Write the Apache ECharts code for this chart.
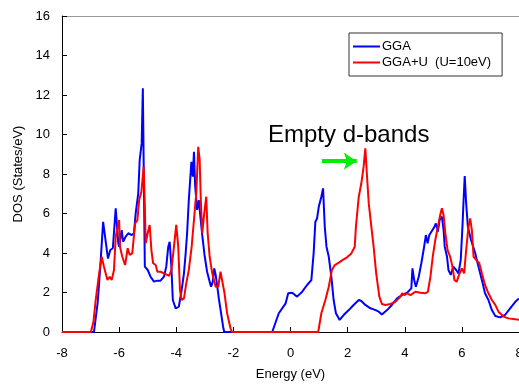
<!DOCTYPE html>
<html>
<head>
<meta charset="utf-8">
<script src="https://cdn.jsdelivr.net/npm/echarts@6/dist/echarts.min.js"></script>
<style>
  html, body { margin: 0; padding: 0; background: #fff; }
  #chart { width: 519px; height: 385px; }
</style>
</head>
<body>
<div id="chart"></div>
<script>
// GGA 态密度（蓝线）
const ggaEnergy = [-8, -6.88, -6.75, -6.66, -6.56, -6.39, -6.31, -6.22, -6.12, -6.03, -6.0, -5.91, -5.86, -5.77, -5.68, -5.56, -5.48, -5.42, -5.33, -5.28, -5.21, -5.17, -5.10, -5.0, -4.9, -4.78, -4.66, -4.55, -4.43, -4.35, -4.28, -4.23, -4.17, -4.12, -4.02, -3.91, -3.81, -3.73, -3.67, -3.62, -3.56, -3.47, -3.42, -3.38, -3.34, -3.27, -3.21, -3.15, -3.09, -3.01, -2.92, -2.83, -2.78, -2.72, -2.67, -2.62, -2.57, -2.51, -2.43, -2.36, -2.32, -0.64, -0.41, -0.17, -0.08, 0.06, 0.23, 0.41, 0.58, 0.73, 0.81, 0.87, 0.93, 0.99, 1.08, 1.14, 1.20, 1.26, 1.34, 1.43, 1.51, 1.59, 1.72, 1.86, 2.04, 2.21, 2.39, 2.48, 2.62, 2.80, 2.98, 3.09, 3.20, 3.38, 3.55, 3.73, 3.90, 4.08, 4.23, 4.27, 4.33, 4.39, 4.49, 4.58, 4.66, 4.74, 4.80, 4.86, 4.93, 5.01, 5.09, 5.16, 5.22, 5.30, 5.36, 5.40, 5.48, 5.53, 5.61, 5.70, 5.80, 5.88, 5.96, 6.02, 6.06, 6.10, 6.15, 6.21, 6.32, 6.47, 6.58, 6.70, 6.81, 6.93, 7.05, 7.17, 7.34, 7.51, 7.69, 7.87, 8.0]
const ggaDos = [0, 0, 1.5, 3.3, 5.58, 3.72, 4.15, 4.24, 6.26, 4.5, 4.32, 5.16, 4.57, 4.83, 5.0, 4.91, 5.0, 6.02, 7.02, 8.71, 9.55, 12.34, 3.31, 3.14, 2.8, 2.55, 2.6, 2.6, 2.8, 3.31, 4.32, 4.57, 3.3, 1.62, 1.2, 1.28, 2.13, 2.97, 4.0, 5.0, 6.68, 8.62, 7.86, 9.13, 7.44, 6.18, 6.68, 5.76, 4.91, 3.9, 3.05, 2.55, 2.29, 2.55, 3.22, 2.89, 2.38, 1.7, 0.95, 0.27, 0, 0, 0.95, 1.45, 1.96, 1.99, 1.79, 2.04, 2.38, 2.63, 3.98, 5.58, 5.75, 6.34, 6.85, 7.27, 5.33, 4.32, 3.81, 2.8, 1.62, 0.95, 0.61, 0.86, 1.11, 1.37, 1.62, 1.57, 1.37, 1.2, 1.11, 1.03, 0.89, 1.11, 1.37, 1.70, 1.87, 1.99, 2.21, 3.22, 2.63, 2.29, 2.8, 3.48, 4.15, 4.91, 4.49, 4.91, 5.0, 5.25, 5.50, 5.08, 5.67, 5.84, 5.16, 4.32, 3.81, 3.14, 2.89, 3.31, 3.14, 2.97, 3.65, 5.33, 6.68, 7.9, 6.51, 5.33, 4.66, 3.98, 3.31, 2.63, 1.96, 1.62, 1.11, 0.81, 0.74, 0.86, 1.2, 1.53, 1.7]

// GGA+U 态密度（红线）
const ggauEnergy = [-8, -6.99, -6.90, -6.82, -6.70, -6.61, -6.53, -6.41, -6.33, -6.26, -6.18, -6.12, -6.06, -6.0, -5.97, -5.89, -5.79, -5.75, -5.70, -5.63, -5.54, -5.44, -5.36, -5.30, -5.22, -5.18, -5.14, -5.10, -5.07, -5.0, -4.93, -4.87, -4.81, -4.72, -4.66, -4.55, -4.43, -4.25, -4.17, -4.08, -4.0, -3.93, -3.87, -3.81, -3.73, -3.65, -3.56, -3.46, -3.38, -3.30, -3.23, -3.18, -3.14, -3.09, -3.02, -2.95, -2.90, -2.83, -2.74, -2.62, -2.53, -2.45, -2.39, -2.31, -2.22, -2.10, -2.05, 0.97, 1.08, 1.22, 1.34, 1.45, 1.55, 1.69, 1.83, 1.98, 2.13, 2.25, 2.29, 2.39, 2.48, 2.56, 2.62, 2.68, 2.74, 2.83, 2.91, 3.0, 3.11, 3.20, 3.32, 3.50, 3.67, 3.85, 3.91, 4.0, 4.08, 4.2, 4.37, 4.55, 4.72, 4.81, 4.90, 4.98, 5.07, 5.16, 5.24, 5.30, 5.36, 5.42, 5.50, 5.59, 5.67, 5.74, 5.82, 5.90, 6.0, 6.08, 6.15, 6.23, 6.29, 6.35, 6.41, 6.50, 6.61, 6.70, 6.81, 6.93, 7.05, 7.17, 7.28, 7.46, 7.63, 7.87, 8.0]
const ggauDos = [0, 0, 0.5, 1.62, 2.97, 3.81, 3.3, 2.63, 2.8, 2.63, 3.14, 4.83, 5.25, 5.67, 4.32, 3.81, 3.39, 3.3, 4.24, 3.9, 3.98, 5.5, 5.67, 6.68, 7.1, 7.0, 8.37, 6.34, 4.49, 5.0, 5.42, 4.15, 3.48, 3.39, 3.05, 3.05, 2.97, 2.84, 3.14, 4.32, 5.42, 4.32, 2.13, 1.62, 1.7, 2.46, 3.14, 4.32, 5.67, 7.02, 9.38, 8.71, 6.68, 5.0, 6.01, 6.85, 5.0, 3.81, 2.97, 2.29, 2.29, 3.05, 2.97, 1.96, 0.95, 0.19, 0, 0, 0.95, 1.62, 2.29, 3.14, 3.39, 3.51, 3.65, 3.78, 3.98, 4.32, 5.33, 6.85, 7.53, 8.37, 9.3, 7.86, 6.51, 5.33, 4.32, 2.97, 1.79, 1.42, 1.37, 1.42, 1.53, 1.79, 1.96, 1.87, 1.96, 1.87, 2.04, 1.99, 1.96, 2.04, 2.80, 3.81, 4.66, 5.33, 5.92, 6.26, 5.92, 5.0, 4.15, 3.81, 3.31, 2.63, 2.55, 2.89, 3.22, 2.97, 4.15, 5.33, 5.75, 5.16, 3.81, 3.65, 3.48, 2.97, 2.38, 1.96, 1.62, 1.37, 1.03, 0.78, 0.69, 0.64, 0.62]

const seriesNames = ['GGA', 'GGA+U  (U=10eV)']
const yTicks = [0, 2, 4, 6, 8, 10, 12, 14, 16]
const xTicks = [-8, -6, -4, -2, 0, 2, 4, 6, 8]

// 绿色箭头的起止点（数据坐标）
const arrowFrom = [1.1, 8.65]
const arrowTo = [2.32, 8.65]

const FONT = 'Liberation Sans'

function zip(xs, ys) {
  return xs.map((x, i) => [x, ys[i]])
}

const chart = echarts.init(document.getElementById('chart'))

const option = {
  animation: false,
  textStyle: { fontFamily: FONT },
  grid: { left: 62, right: 0, top: 16, bottom: 53, outerBoundsMode: 'none' },
  legend: {
    orient: 'vertical',
    left: 349,
    top: 33,
    width: 140,
    padding: [7, 11, 7, 4],
    itemGap: 3,
    itemWidth: 27,
    itemHeight: 2,
    icon: 'rect',
    borderColor: '#333',
    borderWidth: 1,
    backgroundColor: '#fff',
    textStyle: { fontFamily: FONT, fontSize: 13, color: '#000', padding: [0, 0, 0, -3] },
    data: seriesNames,
  },
  xAxis: [
    {
      type: 'value',
      min: xTicks[0],
      max: xTicks[xTicks.length - 1],
      interval: 2,
      name: 'Energy (eV)',
      nameLocation: 'middle',
      nameGap: 36,
      nameTextStyle: { fontFamily: FONT, fontSize: 13, color: '#000' },
      axisLine: { onZero: false, lineStyle: { color: '#000', width: 1 } },
      axisTick: { inside: true, length: 5, lineStyle: { color: '#000' } },
      axisLabel: { fontFamily: FONT, fontSize: 13, color: '#000', margin: 15 },
      splitLine: { show: false },
    },
    {
      type: 'value',
      position: 'top',
      min: xTicks[0],
      max: xTicks[xTicks.length - 1],
      axisLine: { show: true, onZero: false, lineStyle: { color: '#999', width: 1 } },
      axisTick: { show: false },
      axisLabel: { show: false },
      splitLine: { show: false },
    },
  ],
  yAxis: {
    type: 'value',
    min: yTicks[0],
    max: yTicks[yTicks.length - 1],
    interval: 2,
    name: 'DOS (States/eV)',
    nameLocation: 'middle',
    nameGap: 31,
    nameTextStyle: { fontFamily: FONT, fontSize: 13, color: '#000' },
    axisLine: { show: true, onZero: false, lineStyle: { color: '#000', width: 1 } },
    axisTick: { show: true, inside: true, length: 5, lineStyle: { color: '#000' } },
    axisLabel: { fontFamily: FONT, fontSize: 13, color: '#000', margin: 12 },
    splitLine: { show: false },
  },
  series: [
    {
      name: seriesNames[0],
      type: 'line',
      data: zip(ggaEnergy, ggaDos),
      showSymbol: false,
      lineStyle: { color: '#0000ff', width: 2 },
      itemStyle: { color: '#0000ff' },
    },
    {
      name: seriesNames[1],
      type: 'line',
      data: zip(ggauEnergy, ggauDos),
      showSymbol: false,
      lineStyle: { color: '#ff0000', width: 2 },
      itemStyle: { color: '#ff0000' },
      markLine: {
        silent: true,
        symbol: ['none', 'arrow'],
        symbolSize: 13,
        label: { show: false },
        lineStyle: { color: '#00ee00', width: 4, type: 'solid' },
        data: [[{ coord: arrowFrom }, { coord: arrowTo }]],
      },
    },
  ],
  graphic: [
    {
      type: 'text',
      left: 268,
      top: 123,
      style: {
        text: 'Empty d-bands',
        font: '24px "Liberation Sans"',
        fill: '#000',
      },
    },
  ],
}

chart.setOption(option)
</script>
</body>
</html>
